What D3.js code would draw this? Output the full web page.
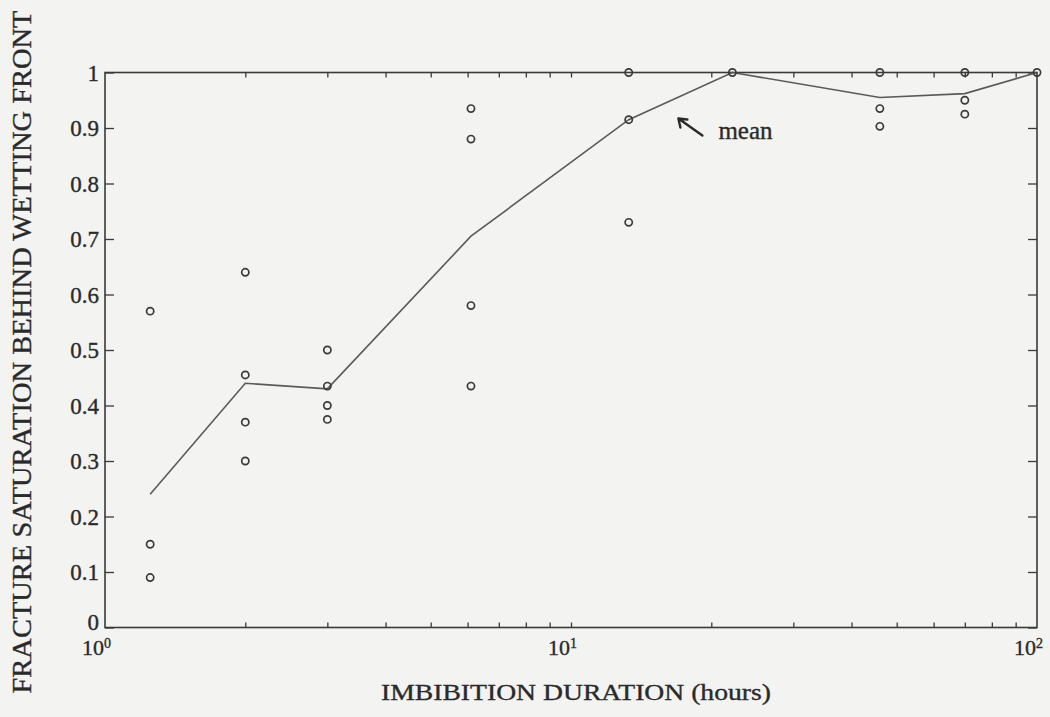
<!DOCTYPE html>
<html>
<head>
<meta charset="utf-8">
<script src="https://cdn.jsdelivr.net/npm/d3@7"></script>
<style>
  html, body { margin: 0; padding: 0; background: #f3f3f2; }
  svg { display: block; }
  text { font-family: "Liberation Serif", "Times New Roman", serif; fill: #2a2a2a; stroke: #2a2a2a; stroke-width: 0.35px; }
</style>
</head>
<body>
<svg id="chart" width="1050" height="717"></svg>
<script>
// Imbibition durations (hours) at which fracture saturation was measured
const durations = [1.25, 2, 3, 6.1, 13.3, 22.2, 46, 70, 100];
// Individual saturation measurements for each duration
const samples = [
  [0.57, 0.15, 0.09],
  [0.64, 0.455, 0.37, 0.30],
  [0.50, 0.435, 0.40, 0.375],
  [0.935, 0.88, 0.58, 0.435],
  [1.0, 0.915, 0.73],
  [1.0],
  [1.0, 0.935, 0.903],
  [1.0, 0.95, 0.925],
  [1.0]
];
// Mean saturation per duration
const means = [0.24, 0.44, 0.43, 0.705, 0.915, 1.0, 0.955, 0.962, 1.0];

const yTicks = [0, 0.1, 0.2, 0.3, 0.4, 0.5, 0.6, 0.7, 0.8, 0.9, 1];
const xDecades = [1, 10, 100];
const xDecadeExp = ["0", "1", "2"];
const xMinor = [2, 3, 4, 5, 6, 7, 8, 9, 20, 30, 40, 50, 60, 70, 80, 90];

const margin = { top: 72.5, right: 13, bottom: 89.5, left: 105 };
const W = 1050, H = 717;
const iw = W - margin.left - margin.right;
const ih = H - margin.top - margin.bottom;

const svg = d3.select("#chart");
const g = svg.append("g").attr("transform", `translate(${margin.left},${margin.top})`);

const x = d3.scaleLog().domain([1, 100]).range([0, iw]);
const y = d3.scaleLinear().domain([0, 1]).range([ih, 0]);

const ink = "#3a3a3a";

// y ticks, left with labels, right without
const yLeft = d3.axisLeft(y).tickValues(yTicks).tickSize(-9).tickSizeOuter(0).tickPadding(6)
  .tickFormat(d => (d === 0 || d === 1) ? String(d) : d.toFixed(1));
const yl = g.append("g").call(yLeft);
yl.selectAll("text").style("font-size", "23px").attr("dy", d => d === 0 ? "0.1em" : "0.34em")
  .style("fill", "#2a2a2a");

const yRight = d3.axisRight(y).tickValues(yTicks).tickSize(-9).tickSizeOuter(0).tickFormat("");
g.append("g").attr("transform", `translate(${iw},0)`).call(yRight);

// x ticks, bottom and top
const xTickVals = xMinor.concat([10]);
g.append("g").attr("transform", `translate(0,${ih})`)
  .call(d3.axisBottom(x).tickValues(xTickVals).tickSize(-5).tickSizeOuter(0).tickFormat(""));
g.append("g")
  .call(d3.axisTop(x).tickValues(xTickVals).tickSize(-5).tickSizeOuter(0).tickFormat(""));

g.selectAll(".domain").remove();
g.selectAll(".tick line").attr("stroke", ink).attr("stroke-width", 1.3);

// plot frame
g.append("rect").attr("x", 0).attr("y", 0).attr("width", iw).attr("height", ih)
  .attr("fill", "none").attr("stroke", ink).attr("stroke-width", 1.6);

// decade labels with superscript exponents
xDecades.forEach((d, i) => {
  const t = g.append("text")
    .attr("x", x(d) + 6).attr("y", ih + 27)
    .attr("text-anchor", "end")
    .style("font-size", "22px");
  t.append("tspan").text("10");
  t.append("tspan").attr("dy", "-0.45em").style("font-size", "14px").text(xDecadeExp[i]);
});

// mean line
const line = d3.line().x((d, i) => x(durations[i])).y(d => y(d));
g.append("path").datum(means)
  .attr("d", line)
  .attr("fill", "none").attr("stroke", "#5a5a5a").attr("stroke-width", 1.6);

// measurement points
const pts = [];
samples.forEach((arr, i) => arr.forEach(v => pts.push({ t: durations[i], v })));
g.selectAll("circle.pt").data(pts).enter().append("circle")
  .attr("class", "pt")
  .attr("cx", d => x(d.t)).attr("cy", d => y(d.v)).attr("r", 3.6)
  .attr("fill", "none").attr("stroke", "#3a3a3a").attr("stroke-width", 1.7);

// "mean" annotation with arrow pointing at the curve
const ax = x(17), ay = y(0.917);
const ann = g.append("g");
ann.append("path")
  .attr("d", `M${ax + 24},${ay + 17} L${ax},${ay} M${ax},${ay} l2,9 M${ax},${ay} l9,1`)
  .attr("fill", "none").attr("stroke", "#2a2a2a").attr("stroke-width", 2.4).attr("stroke-linecap", "round");
ann.append("text").attr("x", ax + 40).attr("y", ay + 20)
  .style("font-size", "25px").text("mean");

// axis titles
svg.append("text")
  .attr("x", margin.left + iw / 2 + 5).attr("y", 700)
  .attr("text-anchor", "middle")
  .style("font-size", "24px")
  .attr("textLength", 390).attr("lengthAdjust", "spacingAndGlyphs")
  .text("IMBIBITION DURATION (hours)");

svg.append("text")
  .attr("transform", "translate(31,352) rotate(-90)")
  .attr("text-anchor", "middle")
  .style("font-size", "27px")
  .attr("textLength", 683).attr("lengthAdjust", "spacingAndGlyphs")
  .text("FRACTURE SATURATION BEHIND WETTING FRONT");
</script>
</body>
</html>
